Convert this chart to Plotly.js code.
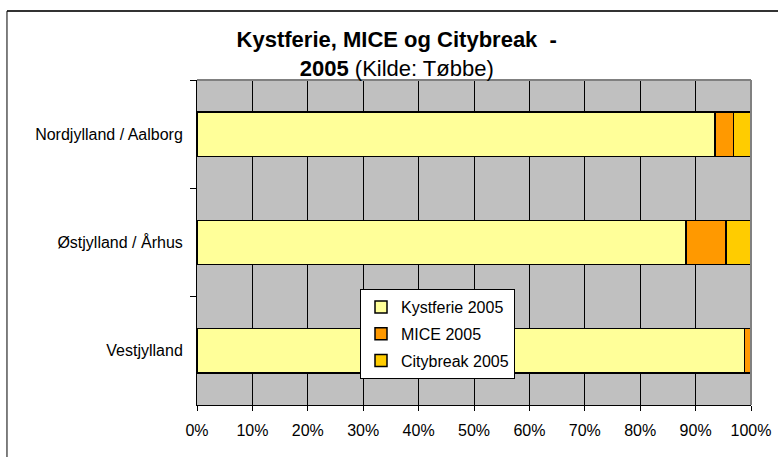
<!DOCTYPE html>
<html>
<head>
<meta charset="utf-8">
<script src="https://cdn.plot.ly/plotly-3.0.1.min.js"></script>
<style>html,body{margin:0;padding:0;background:#fff;}#chart{width:778px;height:457px;}</style>
</head>
<body>
<div id="chart"></div>
<script>
const regions = ['Nordjylland / Aalborg', 'Østjylland / Århus', 'Vestjylland'];
const kystferie = [93.5, 88.3, 98.8];
const mice = [3.3, 7.2, 1.2];
const citybreak = [3.2, 4.5, 0];
const xTickVals = [0, 10, 20, 30, 40, 50, 60, 70, 80, 90, 100];
const xTickText = xTickVals.map(v => v + '%');

const seriesNames = ['Kystferie 2005', 'MICE 2005', 'Citybreak 2005'];
const seriesValues = [kystferie, mice, citybreak];
const seriesColors = ['#FFFF99', '#FF9900', '#FFCC00'];

const traces = seriesNames.map((name, i) => ({
  type: 'bar',
  orientation: 'h',
  name: name,
  legendgroup: 'g' + i,
  y: regions,
  x: seriesValues[i],
  marker: {color: seriesColors[i], line: {color: '#000000', width: 1.5}},
  hoverinfo: 'none'
}));

const fnt = {family: 'Liberation Sans, Arial, sans-serif', size: 16, color: '#000'};

const layout = {
  width: 778, height: 457,
  margin: {l: 197, r: 27, t: 80, b: 52, pad: 0},
  paper_bgcolor: '#ffffff',
  plot_bgcolor: '#C0C0C0',
  barmode: 'stack',
  bargap: 0.59,
  showlegend: true,
  font: fnt,
  title: {
    text: '<b>Kystferie, MICE og Citybreak  -</b><br><b>2005</b> (Kilde: Tøbbe)',
    font: {family: 'Liberation Sans, Arial, sans-serif', size: 22, color: '#000'},
    x: 0.51, xref: 'container', xanchor: 'center',
    y: 1 - 47 / 457, yref: 'container', yanchor: 'top'
  },
  xaxis: {
    range: [0, 100],
    tickvals: xTickVals,
    ticktext: xTickText,
    showgrid: true, gridcolor: '#000000', gridwidth: 1,
    zeroline: false,
    showline: true, linecolor: '#000000', linewidth: 1,
    ticks: 'outside', ticklen: 5, tickcolor: '#000000',
    ticklabelstandoff: 6,
    tickfont: fnt,
    fixedrange: true
  },
  yaxis: {
    autorange: 'reversed',
    type: 'category',
    showgrid: false,
    zeroline: false,
    showline: true, linecolor: '#000000', linewidth: 1,
    ticks: 'outside', ticklen: 6, tickcolor: '#000000',
    tickson: 'boundaries',
    ticklabelstandoff: 10,
    tickfont: fnt,
    fixedrange: true
  },
  legend: {
    x: (360 - 197) / 554, xanchor: 'left',
    y: (405 - 289) / 325, yanchor: 'top',
    bgcolor: '#ffffff',
    bordercolor: '#000000', borderwidth: 1,
    font: fnt,
    traceorder: 'grouped',
    tracegroupgap: 3,
    itemwidth: 30
  },
  shapes: [
    {type: 'line', xref: 'paper', yref: 'paper', x0: 0, x1: 1, y0: 1, y1: 1, line: {color: '#808080', width: 2}},
    {type: 'line', xref: 'paper', yref: 'paper', x0: 1, x1: 1, y0: 0, y1: 1, line: {color: '#808080', width: 2}},
    {type: 'line', xref: 'paper', yref: 'paper', x0: -0.343, x1: 1.2, y0: 1.212, y1: 1.212, line: {color: '#333333', width: 2}},
    {type: 'line', xref: 'paper', yref: 'paper', x0: -0.343, x1: -0.343, y0: -0.2, y1: 1.212, line: {color: '#000000', width: 1}}
  ]
};

Plotly.newPlot('chart', traces, layout, {displayModeBar: false, staticPlot: true});
</script>
</body>
</html>
